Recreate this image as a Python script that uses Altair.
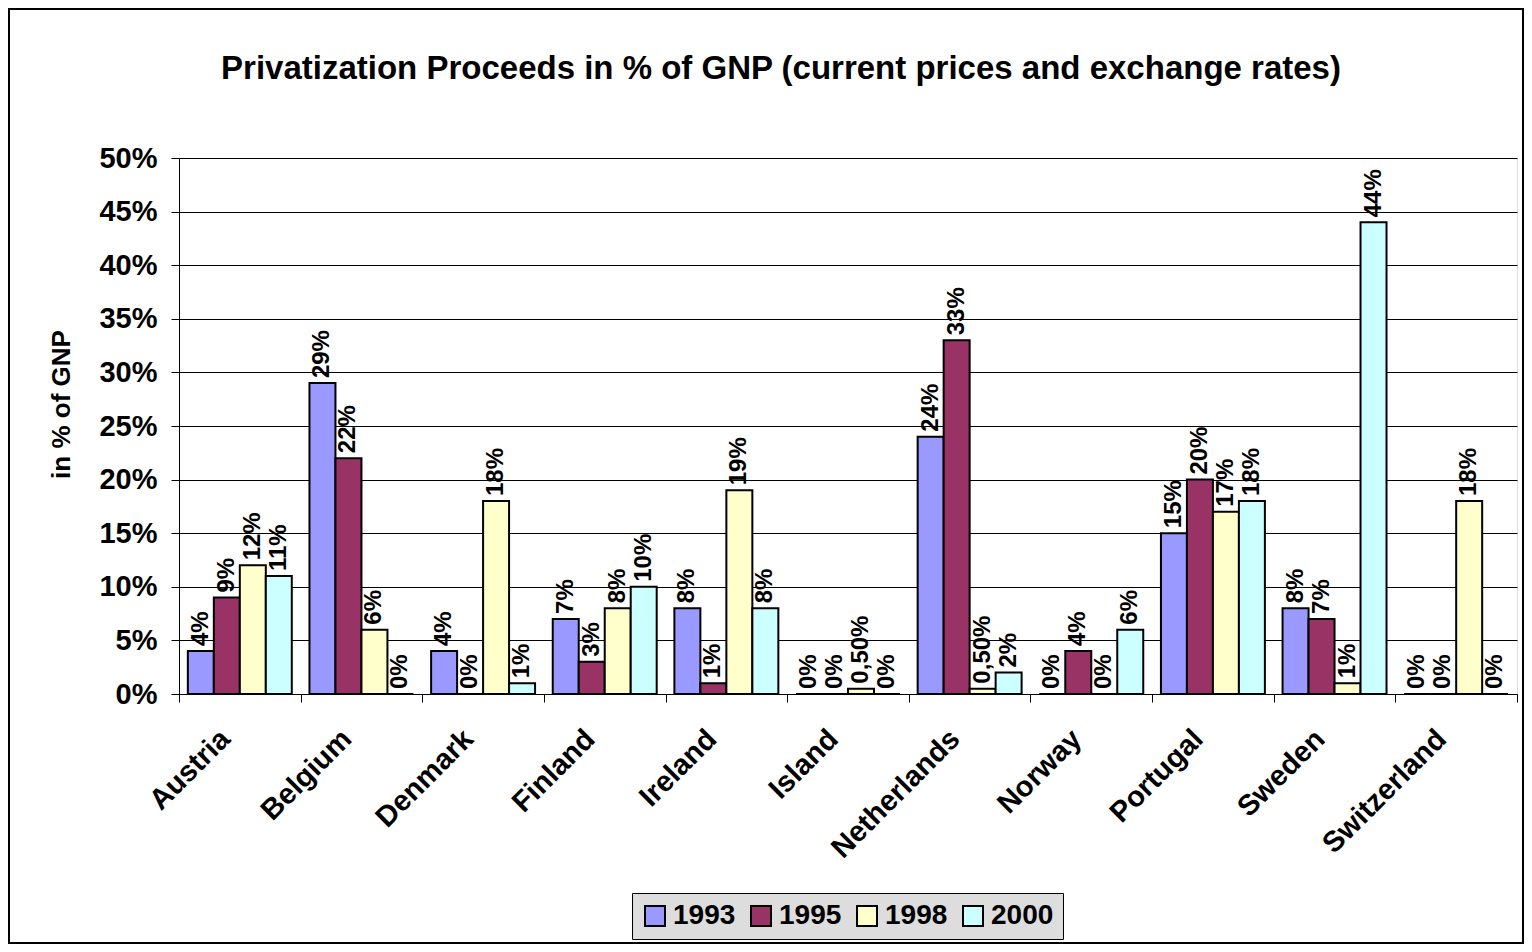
import altair as alt
import pandas as pd

countries = ["Austria", "Belgium", "Denmark", "Finland", "Ireland", "Island",
             "Netherlands", "Norway", "Portugal", "Sweden", "Switzerland"]
years = ["1993", "1995", "1998", "2000"]
v1993 = [4, 29, 4, 7, 8, 0, 24, 0, 15, 8, 0]
v1995 = [9, 22, 0, 3, 1, 0, 33, 4, 20, 7, 0]
v1998 = [12, 6, 18, 8, 19, 0.5, 0.5, 0, 17, 1, 18]
v2000 = [11, 0, 1, 10, 8, 0, 2, 6, 18, 44, 0]
colors = ["#9999FF", "#993366", "#FFFFCC", "#CCFFFF"]

FONT = "Liberation Sans"

rows = []
for yr, vals in zip(years, [v1993, v1995, v1998, v2000]):
    for c, v in zip(countries, vals):
        lab = (f"{v:.2f}".replace(".", ",") if v != int(v) else str(int(v))) + "%"
        rows.append({"country": c, "year": yr, "value": v / 100.0, "label": lab})
df = pd.DataFrame(rows)

x_enc = alt.X("country:N", sort=countries, title=None,
              scale=alt.Scale(paddingInner=0, paddingOuter=0),
              axis=alt.Axis(labelAngle=-45, labelAlign="right", labelBaseline="middle",
                            labelFontSize=29, labelFont=FONT, labelFontWeight="bold",
                            labelColor="black", labelPadding=32, labelOffset=-15,
                            tickBand="extent", tickSize=8, tickColor="black",
                            domainColor="black", domainWidth=1, labelOverlap=False))
xo_enc = alt.XOffset("year:N", sort=years,
                     scale=alt.Scale(paddingInner=0, paddingOuter=0.34))
y_enc = alt.Y("value:Q", title="in % of GNP",
              scale=alt.Scale(domain=[0, 0.5], nice=False),
              axis=alt.Axis(values=[i * 0.05 for i in range(11)], format=".0%",
                            labelFontSize=29, labelFont=FONT, labelFontWeight="bold",
                            labelColor="black", labelPadding=14, tickSize=8,
                            tickColor="black", domainColor="black", gridColor="black",
                            gridWidth=1, titleFontSize=26, titleFont=FONT,
                            titleFontWeight="bold", titleColor="black", titlePadding=24,
                            titleY=246))

bars = alt.Chart(df).mark_bar(stroke="black", strokeWidth=2).encode(
    x=x_enc, xOffset=xo_enc, y=y_enc,
    color=alt.Color("year:N", sort=years,
                    scale=alt.Scale(domain=years, range=colors),
                    legend=alt.Legend(title=None, orient="none", legendX=453, legendY=735,
                                      direction="horizontal", columns=4,
                                      fillColor="#DDDDDD", strokeColor="black",
                                      padding=9, symbolType="square", symbolSize=400,
                                      symbolStrokeColor="black", symbolStrokeWidth=2,
                                      labelFontSize=28, labelFont=FONT,
                                      labelFontWeight="bold", labelColor="black",
                                      labelOffset=4, columnPadding=11))
)

labels = alt.Chart(df).mark_text(angle=270, align="left", baseline="middle", dx=5,
                                 fontSize=24, font=FONT, fontWeight="bold",
                                 color="black").encode(
    x=alt.X("country:N", sort=countries), xOffset=alt.XOffset("year:N", sort=years),
    y=alt.Y("value:Q"), text="label:N"
)

frame = alt.Chart(pd.DataFrame({"f": [0]})).mark_rect(
    fill=None, stroke="black", strokeWidth=2, clip=False).encode(
    x=alt.value(-170), x2=alt.value(1344), y=alt.value(-149), y2=alt.value(785)
)

chart = alt.layer(bars, labels, frame).properties(
    width=1338, height=536,
    title=alt.TitleParams("Privatization Proceeds in % of GNP (current prices and exchange rates)",
                          fontSize=33, font=FONT, fontWeight="bold", color="black",
                          anchor="middle", dx=-67, offset=-78),
    autosize=alt.AutoSizeParams(type="none"),
    padding={"left": 171, "top": 150, "right": 7, "bottom": 250},
).configure_view(stroke=None).configure(background="white")

chart.save("out.html", embed_options={"renderer": "svg", "actions": False})
